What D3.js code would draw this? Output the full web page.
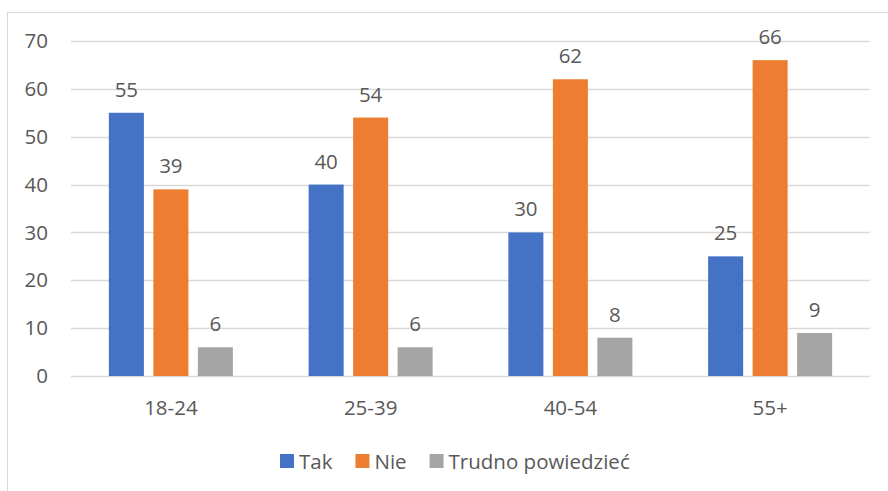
<!DOCTYPE html>
<html><head><meta charset="utf-8">
<script src="https://cdn.jsdelivr.net/npm/d3@7"></script>
<style>body{margin:0;background:#fff;} svg{display:block;} text{font-family:"Open Sans",sans-serif;fill:#595959;}</style>
</head><body>
<svg id="c" width="888" height="491"></svg>
<script>
const categories = ["18-24", "25-39", "40-54", "55+"];
const seriesNames = ["Tak", "Nie", "Trudno powiedzieć"];
const tak = [55, 40, 30, 25];
const nie = [39, 54, 62, 66];
const trudno = [6, 6, 8, 9];
const yTicks = [0, 10, 20, 30, 40, 50, 60, 70];
const colors = ["#4472C4", "#ED7D31", "#A5A5A5"];

(function() {
const seriesValues = [tak, nie, trudno];
const svg = d3.select("#c");
const fs = 20.5;

svg.append("rect").attr("x", 7.5).attr("y", 12.5).attr("width", 900).attr("height", 500)
  .attr("fill", "none").attr("stroke", "#D9D9D9").attr("stroke-width", 1);

const pLeft = 71, pRight = 870, pTop = 41, pBottom = 376;
const y = d3.scaleLinear().domain([0, 70]).range([pBottom, pTop]);
const x0 = d3.scaleBand().domain(categories).range([pLeft, pRight]).padding(0);
const groupW = 124;
const x1 = d3.scaleBand().domain(seriesNames).range([(x0.bandwidth() - groupW) / 2, (x0.bandwidth() + groupW) / 2]).paddingInner(0.213);

svg.append("g").selectAll("line").data(yTicks).join("line")
  .attr("x1", pLeft).attr("x2", pRight)
  .attr("y1", d => Math.round(y(d)) + 0.5).attr("y2", d => Math.round(y(d)) + 0.5)
  .attr("stroke", "#D9D9D9").attr("stroke-width", 1.3);

svg.append("g").selectAll("text").data(yTicks).join("text")
  .attr("x", 48).attr("y", d => y(d)).attr("dy", "0.35em")
  .attr("text-anchor", "end").attr("font-size", fs).text(d => d);

const groups = svg.append("g").selectAll("g").data(categories).join("g")
  .attr("transform", c => `translate(${x0(c)},0)`);
groups.each(function(c, ci) {
  const g = d3.select(this);
  seriesNames.forEach((s, si) => {
    const v = seriesValues[si][ci];
    g.append("rect").attr("x", x1(s)).attr("width", x1.bandwidth())
      .attr("y", y(v)).attr("height", y(0) - y(v)).attr("fill", colors[si]);
    g.append("text").attr("x", x1(s) + x1.bandwidth() / 2).attr("y", y(v) - 16)
      .attr("text-anchor", "middle").attr("font-size", fs).text(v);
  });
});

svg.append("g").selectAll("text").data(categories).join("text")
  .attr("x", c => x0(c) + x0.bandwidth() / 2).attr("y", 415)
  .attr("text-anchor", "middle").attr("font-size", fs).text(c => c);

const leg = svg.append("g");
const items = [];
seriesNames.forEach((s, i) => {
  const it = leg.append("g");
  it.append("rect").attr("x", 0).attr("y", 454).attr("width", 14).attr("height", 14).attr("fill", colors[i]);
  const t = it.append("text").attr("x", 19).attr("y", 469).attr("font-size", fs).text(s);
  const w = 19 + t.node().getComputedTextLength();
  items.push({it, w});
});
const gap = 23;
let startX = 280;
items.forEach(d => { d.it.attr("transform", `translate(${startX},0)`); startX += d.w + gap; });
})();
</script>
</body></html>
